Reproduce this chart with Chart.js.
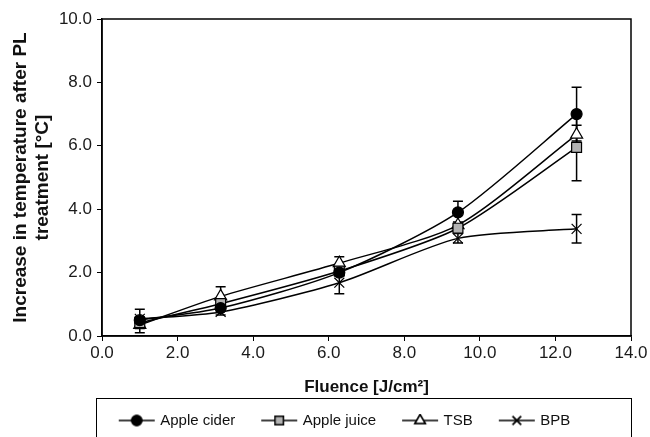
<!DOCTYPE html>
<html>
<head>
<meta charset="utf-8">
<script src="https://cdn.jsdelivr.net/npm/chart.js@4.4.1/dist/chart.umd.min.js"></script>
<style>
  html, body { margin: 0; padding: 0; background: #fff; overflow: hidden; }
  #wrap { width: 650px; height: 437px; position: relative; }
</style>
</head>
<body>
<div id="wrap"><canvas id="chart"></canvas></div>
<script>
// fluence values (J/cm2)
const fluence = [1.0, 3.14, 6.28, 9.42, 12.56];

// temperature increase per medium
const appleCider = [0.5, 0.88, 2.0, 3.9, 7.0];
const appleJuice = [0.42, 1.02, 2.05, 3.4, 5.95];
const tsb = [0.35, 1.25, 2.3, 3.5, 6.35];
const bpb = [0.54, 0.76, 1.68, 3.08, 3.38];

// standard deviations
const appleCiderErr = [0.1, 0.1, 0.1, 0.35, 0.85];
const appleJuiceErr = [0.15, 0.1, 0.1, 0.1, 1.05];
const tsbErr = [0.25, 0.3, 0.2, 0.1, 0.3];
const bpbErr = [0.3, 0.1, 0.35, 0.15, 0.45];

const seriesNames = ['Apple cider', 'Apple juice', 'TSB', 'BPB'];
const yTicks = [0, 2, 4, 6, 8, 10];
const xTicks = [0, 2, 4, 6, 8, 10, 12, 14];

const FONT = "'Liberation Sans', Arial, sans-serif";

function pts(values) {
    return values.map((v, i) => ({ x: fluence[i], y: v }));
}

// little line+marker images for the legend
function legendIcon(style, fill) {
    const c = document.createElement('canvas');
    c.width = 38;
    c.height = 14;
    const g = c.getContext('2d');
    g.strokeStyle = '#000';
    g.lineWidth = 1.5;
    g.beginPath();
    g.moveTo(1, 7);
    g.lineTo(37, 7);
    g.stroke();
    Chart.helpers.drawPoint(g, {
        pointStyle: style,
        radius: style === 'circle' ? 5 : 6,
        rotation: 0,
        borderWidth: 1.2
    }, 19, 7);
    g.fillStyle = fill;
    g.fill();
    g.stroke();
    return c;
}

const errorBars = {
    id: 'errorBars',
    afterLayout(chart) {
        // line the legend up under the plot like the original
        const lg = chart.legend;
        const a = chart.chartArea;
        lg.left = a.left - 43;
        lg.right = a.right + 1;
        lg.top -= 13;
        lg.bottom -= 13;
    },
    beforeDatasetsDraw(chart) {
        const ctx = chart.ctx;
        const ys = chart.scales.y;
        ctx.save();
        ctx.strokeStyle = '#000';
        ctx.lineWidth = 1.5;
        chart.data.datasets.forEach((ds, di) => {
            const meta = chart.getDatasetMeta(di);
            meta.data.forEach((pt, i) => {
                const v = ds.data[i].y;
                const e = ds.errors[i];
                const top = ys.getPixelForValue(v + e);
                const bot = ys.getPixelForValue(v - e);
                ctx.beginPath();
                ctx.moveTo(pt.x, top);
                ctx.lineTo(pt.x, bot);
                ctx.moveTo(pt.x - 5, top);
                ctx.lineTo(pt.x + 5, top);
                ctx.moveTo(pt.x - 5, bot);
                ctx.lineTo(pt.x + 5, bot);
                ctx.stroke();
            });
        });
        ctx.restore();
    },
    afterDraw(chart) {
        const ctx = chart.ctx;
        const a = chart.chartArea;
        ctx.save();
        ctx.strokeStyle = '#000';
        ctx.lineWidth = 1.5;
        ctx.strokeRect(a.left, a.top, a.right - a.left, a.bottom - a.top);
        // legend frame
        const lg = chart.legend;
        ctx.lineWidth = 1;
        ctx.strokeRect(a.left - 5.5, lg.top + 13.5, a.right - a.left + 6, 60);
        ctx.restore();
    }
};

const styles = [
    { pointStyle: 'circle', radius: 5.5, bg: '#000', icon: legendIcon('circle', '#000') },
    { pointStyle: 'rect', radius: 7, bg: '#b3b3b3', icon: legendIcon('rect', '#b3b3b3') },
    { pointStyle: 'triangle', radius: 7, bg: '#fff', icon: legendIcon('triangle', '#fff') },
    { pointStyle: 'crossRot', radius: 7, bg: '#000', icon: legendIcon('crossRot', '#000') }
];
const values = [appleCider, appleJuice, tsb, bpb];
const errs = [appleCiderErr, appleJuiceErr, tsbErr, bpbErr];

const datasets = seriesNames.map((name, i) => ({
    label: name,
    data: pts(values[i]),
    errors: errs[i],
    borderColor: '#000',
    borderWidth: 1.5,
    tension: 0.25,
    pointStyle: styles[i].pointStyle,
    pointRadius: styles[i].radius,
    pointBackgroundColor: styles[i].bg,
    pointBorderColor: '#000',
    pointBorderWidth: 1.2,
    fill: false
}));

new Chart(document.getElementById('chart'), {
    type: 'line',
    data: { datasets: datasets },
    options: {
        responsive: true,
        maintainAspectRatio: false,
        animation: false,
        layout: { padding: { top: 19, right: 19, left: 0, bottom: -14 } },
        scales: {
            x: {
                type: 'linear',
                min: 0,
                max: 14,
                afterBuildTicks: (s) => { s.ticks = xTicks.map(v => ({ value: v })); },
                afterFit: (s) => { s.height = 62; },
                border: { display: true, color: '#000', width: 1.5 },
                grid: { drawOnChartArea: false, drawTicks: true, tickLength: 5, color: '#000' },
                ticks: {
                    color: '#1a1a1a',
                    font: { family: FONT, size: 17 },
                    padding: 2,
                    callback: (v) => v.toFixed(1)
                },
                title: {
                    display: true,
                    text: 'Fluence [J/cm²]',
                    color: '#111',
                    font: { family: FONT, size: 17, weight: 'bold' },
                    padding: { top: 6, bottom: 0 }
                }
            },
            y: {
                min: 0,
                max: 10,
                afterBuildTicks: (s) => { s.ticks = yTicks.map(v => ({ value: v })); },
                afterFit: (s) => { s.width = 102; },
                border: { display: true, color: '#000', width: 1.5 },
                grid: { drawOnChartArea: false, drawTicks: true, tickLength: 5, color: '#000' },
                ticks: {
                    color: '#1a1a1a',
                    font: { family: FONT, size: 17 },
                    padding: 5,
                    callback: (v) => v.toFixed(1)
                },
                title: {
                    display: true,
                    text: ['Increase in temperature after PL', 'treatment [°C]'],
                    color: '#111',
                    font: { family: FONT, size: 19, weight: 'bold', lineHeight: 1.2 },
                    padding: { top: 9, bottom: 0 }
                }
            }
        },
        plugins: {
            legend: {
                position: 'bottom',
                labels: {
                    usePointStyle: true,
                    pointStyleWidth: 32,
                    padding: 28,
                    color: '#111',
                    font: { family: FONT, size: 15 },
                    generateLabels: (chart) => chart.data.datasets.map((ds, i) => ({
                        text: ds.label,
                        pointStyle: styles[i].icon,
                        datasetIndex: i,
                        fillStyle: '#000',
                        strokeStyle: '#000',
                        lineWidth: 0,
                        hidden: false,
                        fontColor: '#111'
                    }))
                }
            },
            tooltip: { enabled: false }
        }
    },
    plugins: [errorBars]
});
</script>
</body>
</html>
